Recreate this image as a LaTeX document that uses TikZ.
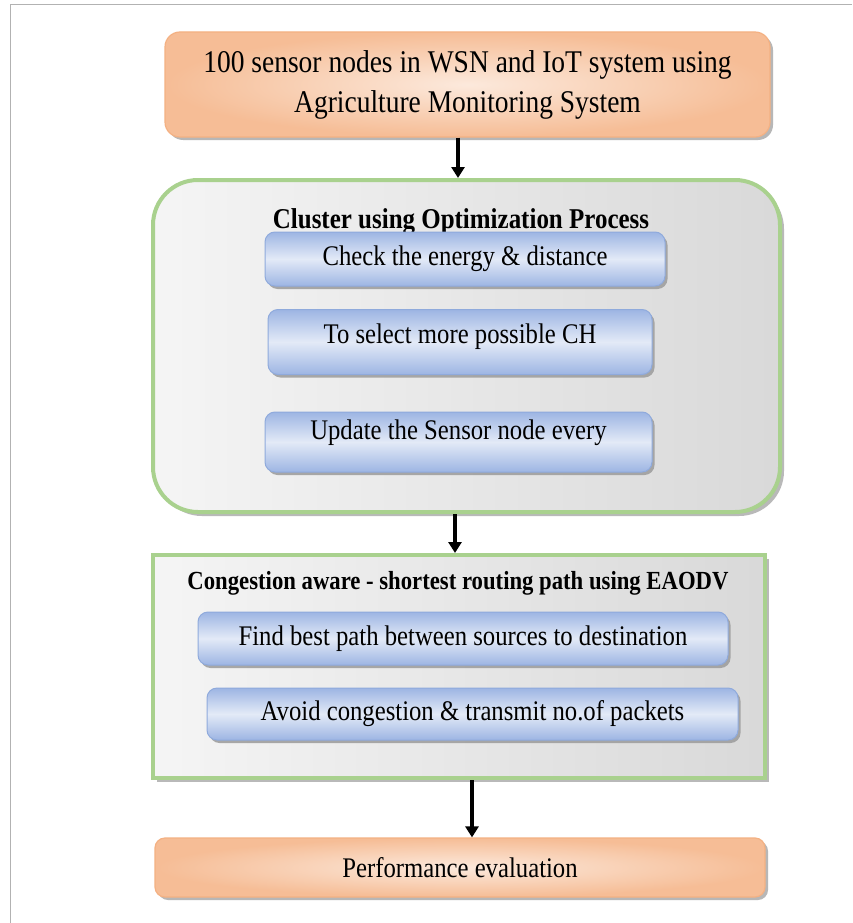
\documentclass[tikz,border=0pt]{standalone}
\usepackage{fontspec}
\setmainfont{Liberation Serif}[FakeStretch=0.87]
\usetikzlibrary{shadows,arrows.meta}
\definecolor{orEdge}{HTML}{F4B183}
\definecolor{orMid}{HTML}{FCE9DC}
\definecolor{grEdge}{HTML}{A9D18E}
\definecolor{blEdge}{HTML}{8FAADC}
\definecolor{blDark}{HTML}{9DB5E3}
\definecolor{blLight}{HTML}{E3EAF7}
\begin{document}
\begin{tikzpicture}[x=1pt,y=-1pt,
  orbox/.style={draw=orEdge, line width=1.2pt, rounded corners=15pt, inner sep=0pt, align=center,
    inner color=orMid, outer color=orEdge!85,
    drop shadow={shadow xshift=3pt, shadow yshift=-3pt, fill=gray!70, opacity=0.8}},
  grbox/.style={draw=grEdge, line width=4pt, inner sep=0pt,
    left color=gray!8, right color=gray!30,
    drop shadow={shadow xshift=4pt, shadow yshift=-4pt, fill=gray!60, opacity=0.9}},
  blbox/.style={draw=blEdge, line width=1pt, rounded corners=10pt, inner sep=0pt, align=center,
    top color=blDark, bottom color=blDark, middle color=blLight,
    drop shadow={shadow xshift=2.5pt, shadow yshift=-3pt, fill=gray!75, opacity=0.9}},
  txt/.style={font=\fontsize{28.4}{34}\selectfont},
  ttl/.style={inner sep=0pt}
]
\tikzset{arr/.style={line width=3.5pt, -{Triangle[length=11pt,width=13pt]}}}
\useasboundingbox (0,0) rectangle (852,923);
\fill[white] (0,0) rectangle (852,923);
\draw[gray!60, line width=1pt] (852,4.5) -- (10.5,4.5) -- (10.5,923);

\node[orbox, minimum width=605pt, minimum height=105pt, font=\fontsize{31.6}{40}\selectfont] (top) at (467.5,84.5)
  {100 sensor nodes in WSN and IoT system using\\Agriculture Monitoring System};

\node[grbox, rounded corners=45pt, minimum width=627pt, minimum height=332pt] (clu) at (466.5,346) {};
\node[ttl, font=\bfseries\fontsize{28.7}{34}\selectfont] (clut) at (461,222) {Cluster using Optimization Process};
\node[blbox, txt, minimum width=400pt, minimum height=54pt] (b1) at (465,259) {Check the energy \& distance};
\node[blbox, minimum width=384pt, minimum height=65pt] (b2) at (460,342) {};
\node[txt, inner sep=0pt] (b2t) at (460,337) {To select more possible CH};
\node[blbox, minimum width=387pt, minimum height=60pt] (b3) at (458.5,442) {};
\node[txt, inner sep=0pt] (b3t) at (458.5,433) {Update the Sensor node every};

\node[grbox, minimum width=612pt, minimum height=223pt] (con) at (459,666.5) {};
\node[ttl, font=\bfseries\fontsize{26.1}{31}\selectfont] (cont) at (458,583) {Congestion aware - shortest routing path using EAODV};
\node[blbox, txt, minimum width=530pt, minimum height=53pt] (b4) at (463,638.5) {Find best path between sources to destination};
\node[blbox, txt, minimum width=531pt, minimum height=52pt] (b5) at (472.5,714) {Avoid congestion \& transmit no.of packets};

\node[orbox, txt, rounded corners=10pt, minimum width=610pt, minimum height=59pt] (perf) at (460,867.5) {Performance evaluation};

\draw[arr] ([xshift=-9.5pt]top.south) -- ([xshift=-8.5pt]clu.north);
\draw[arr] ([xshift=-11.5pt]clu.south) -- ([xshift=-4pt]con.north);
\draw[arr] ([xshift=13pt]con.south) -- ([xshift=12pt]perf.north);
\end{tikzpicture}
\end{document}
